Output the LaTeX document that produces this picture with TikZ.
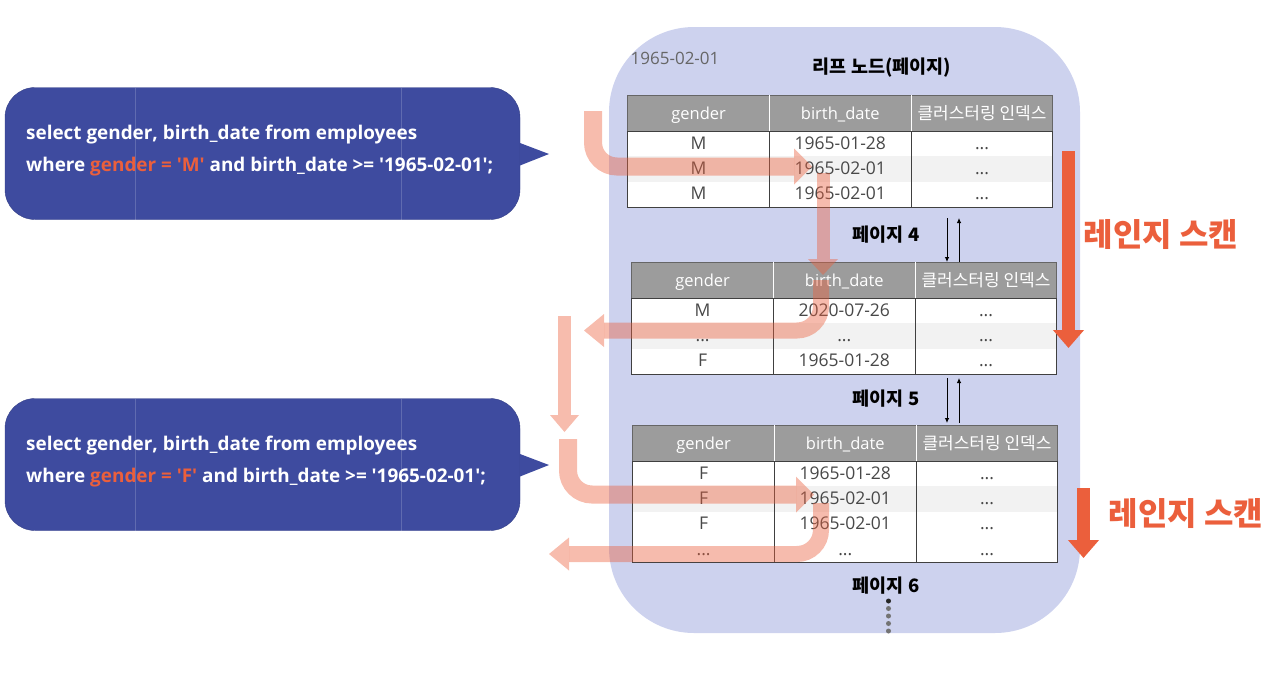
\documentclass[tikz,border=0pt]{standalone}
\usepackage{fontspec}
\setmainfont{Open Sans}[Ligatures=TeXOff]
\newfontfamily\krfont{Noto Sans CJK KR}
\usetikzlibrary{positioning,arrows.meta}
\definecolor{leafblue}{HTML}{CDD2EE}
\definecolor{querynavy}{HTML}{3E4B9F}
\definecolor{scanorange}{HTML}{EB5F3C}
\definecolor{headgray}{HTML}{9C9C9C}
\definecolor{rowgray}{HTML}{F2F2F2}
\definecolor{celltext}{HTML}{484848}

\newcommand{\celldots}{...}
\newcommand{\pagetable}[5]{%
\node[headcell] (#1-h1) at ({#2+70.6},{#3+18}) {gender};
\node[headcell,right=0pt of #1-h1] (#1-h2) {birth\_date};
\node[headcell,right=0pt of #1-h2,font=\krfont\fontsize{17}{20}\selectfont] (#1-h3) {클러스터링 인덱스};
\foreach \g/\d/\s [count=\r] in {#5} {
\node[rowcell,fill=\s] (#1-a\r) at ({#2+70.6},{#3+36+25.3*(\r-0.5)}) {\g};
\node[rowcell,fill=\s,right=0pt of #1-a\r] (#1-b\r) {\d};
\node[rowcell,fill=\s,right=0pt of #1-b\r] (#1-c\r) {\celldots};
}
\draw[headline] (#1-h1.north west) rectangle (#1-h3.south east);
\draw[white] (#1-h1.north east) -- (#1-h1.south east);
\draw[white] (#1-h2.north east) -- (#1-h2.south east);
\draw[gridline] (#1-a1.north west) rectangle (#1-c#4.south east);
\draw[gridline] (#1-a1.north east) -- (#1-a#4.south east);
\draw[gridline] (#1-b1.north east) -- (#1-b#4.south east);
}

\newcommand{\querybubble}[3]{%
\node[querybox] (#1) at (262.5,#2) {};
\coordinate (#1-t1) at (520,{#2-10.5});
\coordinate (#1-t2) at (549,{#2+0.5});
\coordinate (#1-t3) at (520,{#2+12});
\fill[querynavy] (#1-t1) -- (#1-t2) -- (#1-t3) -- cycle;
\draw[seamline] (135,{#2-66}) -- (135,{#2+66});
\draw[seamline] (401,{#2-66}) -- (401,{#2+66});
\node[querytext,anchor=west] (#1-l1) at (26,{#2-19.5}) {select gender, birth\_date from employees};
\node[querytext,anchor=west] (#1-l2) at (26,{#2+12}) {where \textcolor{scanorange}{gender = '#3'} and birth\_date >= '1965-02-01';};
}

\begin{document}
\begin{tikzpicture}[x=1pt,y=-1pt,
headcell/.style={fill=headgray,text=white,inner sep=0pt,outer sep=0pt,minimum width=141.7pt,minimum height=36pt,text height=14pt,text depth=1.5pt,font=\fontsize{16.5}{20}\selectfont},
rowcell/.style={inner sep=0pt,outer sep=0pt,text=celltext,minimum width=141.7pt,minimum height=25.3pt,text height=12.5pt,text depth=1.5pt,font=\fontsize{17.5}{20}\selectfont},
headline/.style={draw=black!60,line width=0.8pt},
gridline/.style={draw=black!75,line width=0.8pt},
seamline/.style={draw=white,opacity=0.18,line width=0.8pt},
querybox/.style={fill=querynavy,draw=querynavy!85!black,rounded corners=30pt,minimum width=515pt,minimum height=132pt,inner sep=0pt},
querytext/.style={text=white,inner sep=0pt,text height=15pt,text depth=4pt,font=\fontsize{18.9}{22}\selectfont\bfseries},
pagelabel/.style={inner sep=0pt,font=\krfont\fontsize{18.5}{22}\selectfont\bfseries},
scanlabel/.style={inner sep=0pt,text=scanorange,font=\krfont\fontsize{32}{36}\selectfont\bfseries},
linkline/.style={line width=0.8pt,-{Latex[length=5pt,width=4.5pt]}},
flowarrow/.style={draw=scanorange,opacity=0.42,rounded corners=24pt,line width=#1},
scanarrow/.style={draw=scanorange,line width=13pt,-{Triangle[length=18pt,width=30pt]}},
pagedot/.style={circle,fill=#1,inner sep=0pt,minimum size=5pt}]

\useasboundingbox (0,0) rectangle (1280,673);

\fill[leafblue,rounded corners=85pt] (609,27) rectangle (1080,633);

\node[inner sep=0pt,text=black!60,font=\fontsize{17}{20}\selectfont] (startkey) at (675,58) {1965-02-01};
\node[pagelabel] (leaftitle) at (882,68) {리프 노드(페이지)};

\querybubble{Q1}{153.5}{M}
\querybubble{Q2}{464.5}{F}

\pagetable{T1}{628}{95}{3}{M/1965-01-28/white,M/1965-02-01/rowgray,M/1965-02-01/white}
\pagetable{T2}{632}{262}{3}{M/2020-07-26/white,\celldots/\celldots/rowgray,F/1965-01-28/white}
\pagetable{T3}{633}{425}{4}{F/1965-01-28/white,F/1965-02-01/rowgray,F/1965-02-01/white,\celldots/\celldots/white}

\node[pagelabel] (P4) at (886,235) {페이지 4};
\node[pagelabel] (P5) at (886,399) {페이지 5};
\node[pagelabel] (P6) at (886,586) {페이지 6};

\coordinate (L1) at (947,218);
\coordinate (L2) at (947,262);
\coordinate (L3) at (959,262);
\coordinate (L4) at (959,218);
\coordinate (L5) at (947,378);
\coordinate (L6) at (947,423);
\coordinate (L7) at (959,423);
\coordinate (L8) at (959,378);
\draw[linkline] (L1) -- (L2);
\draw[linkline] (L3) -- (L4);
\draw[linkline] (L5) -- (L6);
\draw[linkline] (L7) -- (L8);

\coordinate (R1) at (1068.5,151);
\coordinate (R2) at (1068.5,348);
\coordinate (R3) at (1083.5,488);
\coordinate (R4) at (1083.5,558);
\draw[scanarrow] (R1) -- (R2);
\draw[scanarrow] (R3) -- (R4);
\node[scanlabel] (S1) at (1161,235) {레인지 스캔};
\node[scanlabel] (S2) at (1186,514) {레인지 스캔};

\node[pagedot=black!85] (D1) at (888.5,601) {};
\foreach \i/\y in {2/608.5,3/616,4/623.5,5/631}
\node[pagedot=black!55] (D\i) at (888.5,\y) {};

\coordinate (F1) at (593,111);
\coordinate (F2) at (812,166.5);
\coordinate (F3) at (823,173);
\coordinate (F4) at (823,275);
\coordinate (F5) at (821,280);
\coordinate (F6) at (584,330.5);
\coordinate (F7) at (564.5,316);
\coordinate (F8) at (564.5,432);
\coordinate (F9) at (568,439);
\coordinate (F10) at (814,494.5);
\coordinate (F11) at (821,503);
\coordinate (F12) at (549,554);
\draw[flowarrow=18pt,-{Triangle[length=18pt,width=36pt,line width=0pt]}] (F1) |- (F2);
\draw[flowarrow=13pt,-{Triangle[length=16pt,width=30pt,line width=0pt]}] (F3) -- (F4);
\draw[flowarrow=16pt,-{Triangle[length=20pt,width=33pt,line width=0pt]}] (F5) |- (F6);
\draw[flowarrow=13pt,-{Triangle[length=17pt,width=29pt,line width=0pt]}] (F7) -- (F8);
\draw[flowarrow=18pt,-{Triangle[length=18pt,width=36pt,line width=0pt]}] (F9) |- (F10);
\draw[flowarrow=16pt,-{Triangle[length=20pt,width=33pt,line width=0pt]}] (F11) |- (F12);

\end{tikzpicture}
\end{document}
